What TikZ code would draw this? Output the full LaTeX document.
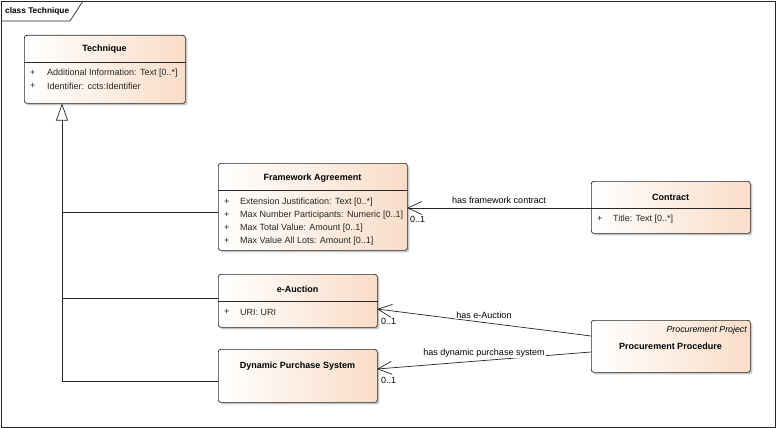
\documentclass[tikz,border=0pt]{standalone}
\usepackage{fontspec}
\setmainfont{Liberation Sans}
\usetikzlibrary{shadows,arrows.meta,calc}
\definecolor{peach}{RGB}{249,221,200}
\definecolor{edge}{RGB}{40,40,40}
\tikzset{
  cls/.style={draw=edge, line width=0.7pt, rounded corners=2.5pt, left color=white, right color=peach,
    anchor=north west, inner sep=0pt,
    drop shadow={shadow xshift=2pt, shadow yshift=-2pt, fill=black!22, opacity=1}},
  ttl/.style={font=\fontsize{9}{10}\selectfont\bfseries, inner sep=0pt},
  attr/.style={font=\fontsize{9}{10}\selectfont, text=black!85, anchor=west, inner sep=0pt},
  lbl/.style={font=\fontsize{9}{10}\selectfont, inner sep=0pt},
  divl/.style={draw=edge, line width=0.7pt},
  conn/.style={draw=black!85, line width=0.7pt},
  gen/.style={conn, -{Triangle[open, width=12pt, length=17pt, line width=0.7pt]}},
  assoc/.style={conn, -{Straight Barb[length=14pt, width=13pt, line width=0.7pt]}},
}
\begin{document}
\begin{tikzpicture}[x=1pt, y=-1pt]
\useasboundingbox (0,0) rectangle (776,428);
\fill[white] (0,0) rectangle (776,428);
% frame
\draw[line width=0.7pt, black!85] (1,1) rectangle (775,427);
\draw[line width=0.7pt, black!85] (1,21) -- (70,21) -- (83,1);
\node[font=\fontsize{8.3}{9}\selectfont\bfseries, anchor=west, inner sep=0pt] (frm) at (5,11) {class Technique};

% Technique
\node[cls, minimum width=161pt, minimum height=68pt] (tech) at (24,35) {};
\draw[divl] ($(tech.north west)+(0,27)$) -- ($(tech.north east)+(0,27)$);
\node[ttl] (techT) at (104.5,49) {Technique};
\node[attr] (techP1) at (30,73) {+};
\node[attr] (techA1) at (47,73) {Additional Information: Text [0..*]};
\node[attr] (techP2) at (30,86) {+};
\node[attr] (techA2) at (47,86) {Identifier: ccts:Identifier};

% Framework Agreement
\node[cls, minimum width=189pt, minimum height=87pt] (fa) at (218,163) {};
\draw[divl] ($(fa.north west)+(0,27)$) -- ($(fa.north east)+(0,27)$);
\node[ttl] (faT) at (312.5,178) {Framework Agreement};
\node[attr] (faP1) at (224,202) {+};
\node[attr] (faA1) at (240,202) {Extension Justification: Text [0..*]};
\node[attr] (faP2) at (224,215) {+};
\node[attr] (faA2) at (240,215) {Max Number Participants: Numeric [0..1]};
\node[attr] (faP3) at (224,228) {+};
\node[attr] (faA3) at (240,228) {Max Total Value: Amount [0..1]};
\node[attr] (faP4) at (224,241) {+};
\node[attr] (faA4) at (240,241) {Max Value All Lots: Amount [0..1]};

% Contract
\node[cls, minimum width=159pt, minimum height=52pt] (ct) at (591,181) {};
\draw[divl] ($(ct.north west)+(0,27)$) -- ($(ct.north east)+(0,27)$);
\node[ttl] (ctT) at (670.5,197) {Contract};
\node[attr] (ctP1) at (597,219) {+};
\node[attr] (ctA1) at (613,219) {Title: Text [0..*]};

% e-Auction
\node[cls, minimum width=159pt, minimum height=53pt] (ea) at (218,274) {};
\draw[divl] ($(ea.north west)+(0,27)$) -- ($(ea.north east)+(0,27)$);
\node[ttl] (eaT) at (297.5,289) {e-Auction};
\node[attr] (eaP1) at (224,312) {+};
\node[attr] (eaA1) at (240,312) {URI: URI};

% Dynamic Purchase System
\node[cls, minimum width=159pt, minimum height=53pt] (dps) at (218,349) {};
\node[ttl] (dpsT) at (297.5,366) {Dynamic Purchase System};

% Procurement Procedure
\node[cls, minimum width=159pt, minimum height=52pt] (pp) at (591,320) {};
\node[font=\fontsize{8.8}{10}\selectfont\itshape, anchor=east, inner sep=0pt] (ppS) at (747,330) {Procurement Project};
\node[ttl] (ppT) at (670.5,346) {Procurement Procedure};

% generalizations
\coordinate (tip) at (62,103.5);
\coordinate (corner) at (62,381);
\coordinate (jF) at (218,212);
\coordinate (jE) at (218,298);
\coordinate (jD) at (218,381);
\coordinate (bF) at (62,212);
\coordinate (bE) at (62,298);
\draw[gen] (jD) -- (corner) -- (tip);
\draw[conn] (jF) -- (bF);
\draw[conn] (jE) -- (bE);

% associations
\coordinate (ctL) at (591,208);
\coordinate (faR) at (407,208);
\draw[assoc] (ctL) -- (faR);
\node[lbl] (l1) at (499,200) {has framework contract};
\node[lbl, anchor=west] (m1) at (410,219) {0..1};

\coordinate (ppE) at (591,336);
\coordinate (eaR) at (377,309);
\draw[assoc] (ppE) -- (eaR);
\node[lbl, fill=white, inner sep=1pt] (l2) at (484,315) {has e-Auction};
\node[lbl, anchor=west] (m2) at (381,321) {0..1};

\coordinate (ppD) at (591,352);
\coordinate (dpsR) at (377,369);
\draw[assoc] (ppD) -- (dpsR);
\node[lbl, fill=white, inner sep=1pt] (l3) at (484,353) {has dynamic purchase system};
\node[lbl, anchor=west] (m3) at (381,380) {0..1};
\end{tikzpicture}
\end{document}
